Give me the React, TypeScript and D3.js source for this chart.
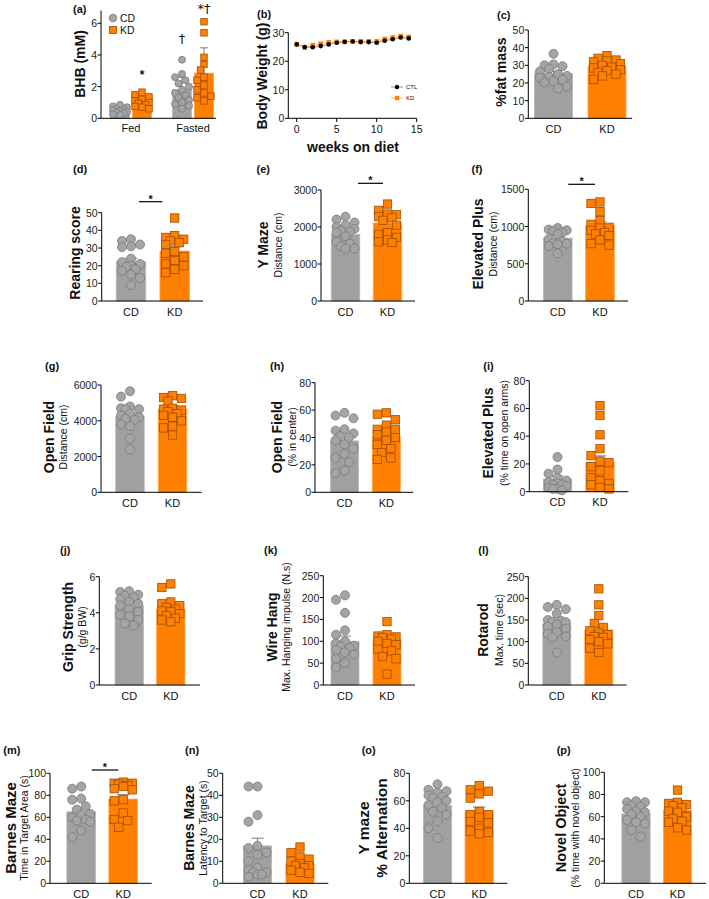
import React from 'react';
import * as d3 from 'd3';

const FONT = '"Liberation Sans", Arial, Helvetica, sans-serif';
const GREY = '#a0a0a0';
const GREY_PT = '#a4a4a4';
const GREY_STROKE = '#7a7a7a';
const ORANGE = '#ff8000';
const ORANGE_STROKE = '#a24d00';
const ERR = '#6e6e6e';

// ---------- DATA ----------
// (a) BHB
const aGroups = ['Fed', 'Fasted'];
const aFedCD = [0.85, 0.75, 0.7, 0.6, 0.55, 0.5, 0.45, 0.4, 0.35, 0.3, 0.25, 0.2];
const aFedKD = [1.65, 1.5, 1.35, 1.2, 1.1, 1.0, 0.95, 0.85, 0.75, 0.7, 0.6];
const aFastCD = [3.7, 2.8, 2.6, 2.4, 2.2, 2.0, 1.8, 1.6, 1.45, 1.3, 1.15, 1.0, 0.9, 0.8, 0.6];
const aFastKD = [6.1, 5.4, 3.85, 3.4, 3.05, 2.6, 2.4, 2.1, 1.8, 1.6, 1.4, 1.3, 1.1];
const aMeanCD = [0.5, 1.8];
const aMeanKD = [1.05, 2.85];
const aSemCD = [0.1, 0.8];
const aSemKD = [0.15, 1.6];

// (b) body weight
const bWeeks = [0, 1, 2, 3, 4, 5, 6, 7, 8, 9, 10, 11, 12, 13, 14];
const bCTL = [25.9, 25.0, 24.9, 25.3, 25.9, 26.5, 26.8, 26.9, 26.7, 26.7, 26.5, 27.2, 27.7, 28.3, 28.0];
const bKD = [26.0, 24.7, 25.6, 26.1, 26.6, 26.8, 26.8, 27.0, 27.0, 27.0, 27.0, 27.8, 28.3, 28.8, 28.5];
const bXTicks = [0, 5, 10, 15];
const bYTicks = [0, 10, 20, 30];

const cCD = [36.5, 30.5, 30, 29.5, 28, 26.5, 25, 24, 23.5, 23, 22, 21, 20.5, 18, 17];
const cKD = [35.5, 34, 33, 32.5, 32, 31, 30, 29, 28.5, 27.5, 27, 26, 25, 24, 22];
const cMean = [25.3, 29.5];
const cSem = [1.4, 1.1];

const dCD = [35, 34, 32, 31, 30.5, 24, 22, 21, 20, 19.5, 18, 17, 15, 13, 9];
const dKD = [47, 37, 36, 35, 34, 33, 32, 28, 27, 25, 23, 21, 20, 18, 16];
const dMean = [22.2, 28.3];
const dSem = [2, 2.5];

const eCD = [2280, 2200, 2120, 2050, 2000, 1950, 1900, 1880, 1850, 1750, 1600, 1550, 1480, 1420, 1420];
const eKD = [2620, 2450, 2350, 2330, 2280, 2250, 2180, 2050, 1850, 1800, 1720, 1650, 1600, 1580];
const eMean = [1800, 2110];
const eSem = [70, 90];

const fCD = [980, 960, 950, 940, 920, 900, 830, 800, 780, 770, 760, 740, 640];
const fKD = [1330, 1310, 1200, 1080, 1030, 990, 980, 950, 920, 900, 880, 820, 770, 750];
const fMean = [845, 1010];
const fSem = [30, 55];

const gCD = [5650, 5350, 4800, 4700, 4650, 4650, 4400, 4300, 4200, 4100, 4050, 3800, 3700, 3000, 2400];
const gKD = [5400, 5300, 5250, 5100, 4700, 4650, 4600, 4500, 4400, 4300, 4200, 4000, 3700, 3600, 3200];
const gMean = [4230, 4650];
const gSem = [200, 170];

const hCD = [58, 56, 54, 46, 45, 43, 41, 40, 38, 35, 32, 28, 25, 22, 16, 14];
const hKD = [58, 57, 53, 49, 46, 46, 44, 42, 40, 38, 35, 32, 29, 25, 24];
const hMean = [37.5, 41];
const hSem = [3.5, 3];

const iCD = [25, 16, 13, 10, 8, 7, 6, 5, 5, 4, 3, 2, 2, 1];
const iKD = [62, 55, 41, 31, 26, 22, 21, 18, 15, 10, 8, 6, 5, 3, 2];
const iMean = [9, 21.3];
const iSem = [2.3, 4.5];

const jCD = [5.2, 5.15, 5.0, 4.95, 4.85, 4.75, 4.6, 4.5, 4.4, 4.2, 4.05, 3.9, 3.8, 3.6, 3.4, 3.3];
const jKD = [5.6, 5.4, 4.6, 4.5, 4.4, 4.3, 4.2, 4.1, 4.05, 3.95, 3.85, 3.7, 3.6, 3.5];
const jMean = [4.4, 4.2];
const jSem = [0.14, 0.15];

const kCD = [205, 195, 165, 125, 115, 100, 95, 90, 88, 85, 80, 75, 70, 60, 50, 40];
const kKD = [145, 115, 112, 110, 108, 105, 100, 95, 92, 82, 78, 65, 60, 25];
const kMean = [99, 103];
const kSem = [13, 8];

const lCD = [185, 180, 175, 165, 150, 148, 146, 145, 140, 135, 130, 122, 118, 112, 110, 75];
const lKD = [222, 185, 160, 142, 133, 125, 120, 116, 112, 110, 105, 100, 95, 85, 75];
const lMean = [142, 127];
const lSem = [7, 10];

const mCD = [88, 86, 77, 76, 70, 67, 63, 62, 60, 58, 57, 56, 48, 42];
const mKD = [92, 91, 91, 90, 89, 88, 86, 85, 76, 75, 64, 58, 57, 51];
const mMean = [65, 76.6];
const mSem = [3.3, 4];

const nCD = [44, 44, 31, 28, 17, 16, 14, 13, 10, 7, 6, 5, 5, 4, 4, 3];
const nKD = [16.5, 14, 12, 11, 10, 9, 8, 8, 7, 6, 5, 4.5];
const nMean = [17, 9];
const nSem = [3.5, 1.1];

const oCD = [72, 68, 67, 66, 64, 63, 62, 60, 59, 57, 55, 52, 50, 45, 40, 33];
const oKD = [71, 68, 67, 65, 62, 52, 50, 50, 48, 45, 44, 40, 38, 37, 36];
const oMean = [56.5, 52.5];
const oSem = [2.5, 3];

const pCD = [74, 73, 73, 70, 69, 67, 65, 64, 62, 60, 57, 55, 54, 48, 42];
const pKD = [84, 73, 72, 71, 70, 68, 65, 64, 60, 58, 56, 55, 50, 48];
const pMean = [62.5, 66];
const pSem = [2.5, 3];

const groups = ['CD', 'KD'];

// ---------- helpers ----------
function swarm(values: number[], y: (v: number) => number, r: number, maxOff: number) {
  const pts = values.map((v) => ({ v, py: y(v), off: 0 })).sort((a, b) => a.py - b.py);
  const placed: { py: number; off: number }[] = [];
  const step = r;
  const cands = [0];
  for (let k = 1; k * step <= maxOff + 0.01; k++) cands.push(-k * step, k * step);
  for (const p of pts) {
    let chosen: number | null = null;
    let bestAlt = 0;
    let bestD = -Infinity;
    for (const c of cands) {
      let minD = Infinity;
      for (const q of placed) minD = Math.min(minD, Math.hypot(c - q.off, p.py - q.py));
      if (minD >= 2 * r * 0.92) { chosen = c; break; }
      if (minD > bestD) { bestD = minD; bestAlt = c; }
    }
    p.off = chosen === null ? bestAlt : chosen;
    placed.push({ py: p.py, off: p.off });
  }
  return pts;
}

function Marker({ kind, x, y, r }: { kind: string; x: number; y: number; r: number }) {
  if (kind === 'CD') {
    return <circle cx={x} cy={y} r={r} fill={GREY_PT} stroke={GREY_STROKE} strokeWidth={0.8} />;
  }
  const s = r * 1.85;
  return <rect x={x - s / 2} y={y - s / 2} width={s} height={s} fill={ORANGE} stroke={ORANGE_STROKE} strokeWidth={0.8} />;
}

function YAxis({ scale, ticks, x, top }: { scale: any; ticks: number[]; x: number; top: number }) {
  return (
    <g>
      <line x1={x} x2={x} y1={scale(0)} y2={top} stroke="#000" strokeWidth={1} />
      {ticks.map((t) => (
        <g key={t}>
          <line x1={x - 3.5} x2={x} y1={scale(t)} y2={scale(t)} stroke="#000" strokeWidth={1} />
          <text x={x - 4} y={scale(t)} fontSize={10.5} textAnchor="end" dominantBaseline="central" fontFamily={FONT} fill="#222">
            {d3.format('d')(t)}
          </text>
        </g>
      ))}
    </g>
  );
}

function GroupBars({ cx, barW, scale, vals, mean, sem, kind, r }: any) {
  const y0 = scale(0);
  const yM = scale(mean);
  const yE = scale(mean + sem);
  const pts = swarm(vals, scale, r, barW / 2 - r * 0.4);
  return (
    <g>
      <rect x={cx - barW / 2} y={yM} width={barW} height={y0 - yM}
        fill={kind === 'CD' ? GREY : ORANGE} stroke={kind === 'CD' ? '#b8b8b8' : '#ffa64d'} strokeWidth={0.8} />
      <line x1={cx} x2={cx} y1={yM} y2={yE} stroke={ERR} strokeWidth={0.9} />
      <line x1={cx - barW * 0.22} x2={cx + barW * 0.22} y1={yE} y2={yE} stroke={ERR} strokeWidth={0.9} />
      {pts.map((p, i) => (
        <Marker key={i} kind={kind} x={cx + p.off} y={p.py} r={r} />
      ))}
    </g>
  );
}

function PanelLabel({ x, y, text }: { x: number; y: number; text: string }) {
  return <text x={x} y={y} fontSize={11} fontWeight="bold" fontFamily={FONT} fill="#111">{text}</text>;
}

function RotTitle({ x, y, text, size, bold }: any) {
  return (
    <text transform={`translate(${x},${y}) rotate(-90)`} textAnchor="middle" dominantBaseline="central"
      fontSize={size} fontWeight={bold ? 'bold' : 'normal'} fontFamily={FONT} fill="#111">{text}</text>
  );
}

// ---------- layout ----------
const panels = [
  { label: '(c)', lx: 497, ly: 19, ax: 528.3, xEnd: 632, y0: 118.3, yTop: 30, top: 50, step: 10, cx: [553.5, 607], bw: 38,
    title: '%fat mass', tx: 500.7, ty: 72, tsize: 14, sub: null, cd: cCD, kd: cKD, mean: cMean, sem: cSem },
  { label: '(d)', lx: 73, ly: 173, ax: 101.7, xEnd: 203, y0: 301, yTop: 212.7, top: 50, step: 10, cx: [131, 174.7], bw: 29.5,
    title: 'Rearing score', tx: 75, ty: 253, tsize: 14, sub: null, cd: dCD, kd: dKD, mean: dMean, sem: dSem,
    sig: { x1: 139, x2: 162.3, y: 201.7 } },
  { label: '(e)', lx: 256.5, ly: 173, ax: 321, xEnd: 415, y0: 301, yTop: 190, top: 3000, step: 1000, cx: [345.5, 387.5], bw: 28.5,
    title: 'Y Maze', tx: 263.3, ty: 245, tsize: 14, sub: 'Distance (cm)', sx: 278.3, cd: eCD, kd: eKD, mean: eMean, sem: eSem,
    sig: { x1: 358, x2: 383, y: 183.3 } },
  { label: '(f)', lx: 471.5, ly: 173, ax: 528.3, xEnd: 628, y0: 301, yTop: 189.3, top: 1500, step: 500, cx: [557.7, 600], bw: 28.7,
    title: 'Elevated Plus', tx: 478.3, ty: 244, tsize: 14, sub: 'Distance (cm)', sx: 492.7, cd: fCD, kd: fKD, mean: fMean, sem: fSem,
    sig: { x1: 568.3, x2: 595, y: 184.3 } },
  { label: '(g)', lx: 45, ly: 370, ax: 101, xEnd: 201.7, y0: 492.3, yTop: 385, top: 6000, step: 2000, cx: [130, 172.5], bw: 28.5,
    title: 'Open Field', tx: 49.3, ty: 437, tsize: 14, sub: 'Distance (cm)', sx: 63.3, cd: gCD, kd: gKD, mean: gMean, sem: gSem },
  { label: '(h)', lx: 270, ly: 370, ax: 315, xEnd: 413.3, y0: 492.3, yTop: 382.7, top: 80, step: 20, cx: [344.5, 386.3], bw: 28,
    title: 'Open Field', tx: 276.7, ty: 437, tsize: 14, sub: '(% in center)', sx: 291.7, cd: hCD, kd: hKD, mean: hMean, sem: hSem },
  { label: '(i)', lx: 483.3, ly: 370, ax: 529.3, xEnd: 628.3, y0: 491.7, yTop: 380.7, top: 80, step: 20, cx: [557.5, 600], bw: 28.3,
    title: 'Elevated Plus', tx: 488.3, ty: 433, tsize: 14, sub: '(% time on open arms)', sx: 504.3, cd: iCD, kd: iKD, mean: iMean, sem: iSem },
  { label: '(j)', lx: 60, ly: 554, ax: 99.3, xEnd: 200, y0: 685, yTop: 576.7, top: 6, step: 2, cx: [129.2, 170.8], bw: 28.3,
    title: 'Grip Strength', tx: 68.3, ty: 627, tsize: 14, sub: '(g/g BW)', sx: 82, cd: jCD, kd: jKD, mean: jMean, sem: jSem },
  { label: '(k)', lx: 264, ly: 554, ax: 323.3, xEnd: 415, y0: 685, yTop: 575.7, top: 250, step: 50, cx: [345, 387], bw: 28,
    title: 'Wire Hang', tx: 271.7, ty: 627, tsize: 14, sub: 'Max. Hanging impulse (N.s)', sx: 286, cd: kCD, kd: kKD, mean: kMean, sem: kSem },
  { label: '(l)', lx: 478.3, ly: 554, ax: 528.3, xEnd: 626.7, y0: 685, yTop: 576.7, top: 250, step: 50, cx: [556.8, 598.8], bw: 28,
    title: 'Rotarod', tx: 483.3, ty: 630, tsize: 14, sub: 'Max. time (sec)', sx: 499.3, cd: lCD, kd: lKD, mean: lMean, sem: lSem },
  { label: '(m)', lx: 3.3, ly: 754, ax: 50, xEnd: 151.7, y0: 883.3, yTop: 773.3, top: 100, step: 20, cx: [81.2, 123.2], bw: 28.7,
    title: 'Barnes Maze', tx: 10, ty: 828, tsize: 15, sub: 'Time in Target Area (s)', sx: 24, cd: mCD, kd: mKD, mean: mMean, sem: mSem,
    sig: { x1: 91.7, x2: 118.3, y: 770 } },
  { label: '(n)', lx: 185, ly: 754, ax: 222.7, xEnd: 328.3, y0: 883.3, yTop: 773.3, top: 50, step: 10, cx: [257.5, 300], bw: 28.3,
    title: 'Barnes Maze', tx: 189, ty: 828, tsize: 14, sub: 'Latency to Target (s)', sx: 203, cd: nCD, kd: nKD, mean: nMean, sem: nSem },
  { label: '(o)', lx: 361.7, ly: 754, ax: 409.3, xEnd: 507.3, y0: 883.3, yTop: 773.3, top: 80, step: 20, cx: [437.5, 479.2], bw: 28.3,
    title: 'Y maze', tx: 363.3, ty: 828, tsize: 15.5, sub: '% Alternation', sx: 381.7, subBold: true, subSize: 15.5, cd: oCD, kd: oKD, mean: oMean, sem: oSem },
  { label: '(p)', lx: 556.7, ly: 754, ax: 604.3, xEnd: 706, y0: 883.3, yTop: 772.3, top: 100, step: 20, cx: [636, 677.5], bw: 28.3,
    title: 'Novel Object', tx: 561, ty: 828, tsize: 14.5, sub: '(% time with novel object)', sx: 575.3, cd: pCD, kd: pKD, mean: pMean, sem: pSem },
];

function BarPanel({ p }: { p: any }) {
  const y = d3.scaleLinear().domain([0, p.top]).range([p.y0, p.yTop]);
  const x = d3.scalePoint<string>().domain(groups).range(p.cx);
  const ticks = d3.range(0, p.top + p.step / 2, p.step);
  const r = 4.5;
  return (
    <g>
      <PanelLabel x={p.lx} y={p.ly} text={p.label} />
      <GroupBars cx={x('CD')} barW={p.bw} scale={y} vals={p.cd} mean={p.mean[0]} sem={p.sem[0]} kind="CD" r={r} />
      <GroupBars cx={x('KD')} barW={p.bw} scale={y} vals={p.kd} mean={p.mean[1]} sem={p.sem[1]} kind="KD" r={r} />
      <YAxis scale={y} ticks={ticks} x={p.ax} top={y(p.top)} />
      <line x1={p.ax} x2={p.xEnd} y1={p.y0} y2={p.y0} stroke="#000" strokeWidth={1} />
      {groups.map((g) => (
        <text key={g} x={x(g)} y={p.y0 + 10.5} fontSize={11} textAnchor="middle" dominantBaseline="central" fontFamily={FONT} fill="#111">{g}</text>
      ))}
      <RotTitle x={p.tx} y={p.ty} text={p.title} size={p.tsize} bold />
      {p.sub && <RotTitle x={p.sx} y={p.ty} text={p.sub} size={p.subSize || 10.5} bold={!!p.subBold} />}
      {p.sig && (
        <g>
          <line x1={p.sig.x1} x2={p.sig.x2} y1={p.sig.y} y2={p.sig.y} stroke="#000" strokeWidth={1.2} />
          <text x={(p.sig.x1 + p.sig.x2) / 2} y={p.sig.y + 1} fontSize={11} fontWeight="bold" textAnchor="middle" fontFamily={FONT} fill="#111">*</text>
        </g>
      )}
    </g>
  );
}

function PanelA() {
  const y = d3.scaleLinear().domain([0, 6]).range([118.3, 23.3]);
  const gx = d3.scalePoint<string>().domain(aGroups).range([131, 193]);
  const sub = d3.scalePoint<string>().domain(groups).range([-11, 11]);
  const bw = 19;
  const r = 3.5;
  const sets = [
    { g: 'Fed', cd: aFedCD, kd: aFedKD },
    { g: 'Fasted', cd: aFastCD, kd: aFastKD },
  ];
  return (
    <g>
      <PanelLabel x={73} y={13} text="(a)" />
      {sets.map((s, i) => (
        <g key={s.g}>
          <GroupBars cx={gx(s.g)! + sub('CD')!} barW={bw} scale={y} vals={s.cd} mean={aMeanCD[i]} sem={aSemCD[i]} kind="CD" r={r} />
          <GroupBars cx={gx(s.g)! + sub('KD')!} barW={bw} scale={y} vals={s.kd} mean={aMeanKD[i]} sem={aSemKD[i]} kind="KD" r={r} />
          <text x={gx(s.g)} y={128} fontSize={11} textAnchor="middle" dominantBaseline="central" fontFamily={FONT} fill="#111">{s.g}</text>
        </g>
      ))}
      <YAxis scale={y} ticks={[0, 2, 4, 6]} x={101} top={y(6.8)} />
      <line x1={101} x2={216} y1={118.3} y2={118.3} stroke="#000" strokeWidth={1} />
      <RotTitle x={80} y={64} text="BHB (mM)" size={14} bold />
      {/* legend */}
      <Marker kind="CD" x={113} y={18} r={3.8} />
      <text x={120} y={18} fontSize={10.5} dominantBaseline="central" fontFamily={FONT} fill="#111">CD</text>
      <Marker kind="KD" x={113} y={30} r={3.8} />
      <text x={120} y={30} fontSize={10.5} dominantBaseline="central" fontFamily={FONT} fill="#111">KD</text>
      {/* significance */}
      <text x={gx('Fed')! + sub('KD')!} y={79} fontSize={12} fontWeight="bold" textAnchor="middle" fontFamily={FONT} fill="#111">*</text>
      <text x={gx('Fasted')! + sub('CD')!} y={43} fontSize={13} textAnchor="middle" fontFamily='"DejaVu Sans", sans-serif' fill="#111">†</text>
      <text x={gx('Fasted')! + sub('KD')!} y={13} fontSize={13} textAnchor="middle" fontFamily='"DejaVu Sans", sans-serif' fill="#111">*†</text>
    </g>
  );
}

function PanelB() {
  const x = d3.scaleLinear().domain([0, 15]).range([296.7, 416.7]);
  const y = d3.scaleLinear().domain([0, 30]).range([118.3, 32.7]);
  const line = d3.line<number>().x((_, i) => x(bWeeks[i])).y((v) => y(v));
  const axX = 288.3;
  return (
    <g>
      <PanelLabel x={257} y={18} text="(b)" />
      <path d={line(bKD) || ''} fill="none" stroke="#f6a860" strokeWidth={0.8} />
      <path d={line(bCTL) || ''} fill="none" stroke="#777" strokeWidth={0.8} />
      {bKD.map((v, i) => (
        <rect key={'k' + i} x={x(bWeeks[i]) - 2.3} y={y(v) - 2.3} width={4.6} height={4.6} fill={ORANGE} />
      ))}
      {bCTL.map((v, i) => (
        <circle key={'c' + i} cx={x(bWeeks[i])} cy={y(v)} r={2.3} fill="#000" />
      ))}
      <YAxis scale={y} ticks={bYTicks} x={axX} top={y(30)} />
      <line x1={axX} x2={x(15)} y1={118.3} y2={118.3} stroke="#000" strokeWidth={1} />
      {bXTicks.map((t) => (
        <g key={t}>
          <line x1={x(t)} x2={x(t)} y1={118.3} y2={122} stroke="#000" strokeWidth={1} />
          <text x={x(t)} y={128.5} fontSize={10.5} textAnchor="middle" dominantBaseline="central" fontFamily={FONT} fill="#111">{t}</text>
        </g>
      ))}
      <RotTitle x={262} y={76} text="Body Weight (g)" size={14} bold />
      <text x={353} y={147} fontSize={14} fontWeight="bold" textAnchor="middle" dominantBaseline="central" fontFamily={FONT} fill="#111">weeks on diet</text>
      {/* legend */}
      <line x1={391} x2={403} y1={87} y2={87} stroke="#777" strokeWidth={0.8} />
      <circle cx={397} cy={87} r={2.2} fill="#000" />
      <text x={406} y={87} fontSize={6} dominantBaseline="central" fontFamily={FONT} fill="#111">CTL</text>
      <line x1={391} x2={403} y1={98} y2={98} stroke="#f6a860" strokeWidth={0.8} />
      <rect x={394.8} y={95.8} width={4.4} height={4.4} fill={ORANGE} />
      <text x={406} y={98} fontSize={6} dominantBaseline="central" fontFamily={FONT} fill="#111">KD</text>
    </g>
  );
}

export default function App() {
  return (
    <svg width={709} height={899} viewBox="0 0 709 899"
      style={{ position: 'absolute', left: 0, top: 0, background: '#fff' }}>
      <rect x={0} y={0} width={709} height={899} fill="#fff" />
      <PanelA />
      <PanelB />
      {panels.map((p) => (
        <BarPanel key={p.label} p={p} />
      ))}
    </svg>
  );
}
